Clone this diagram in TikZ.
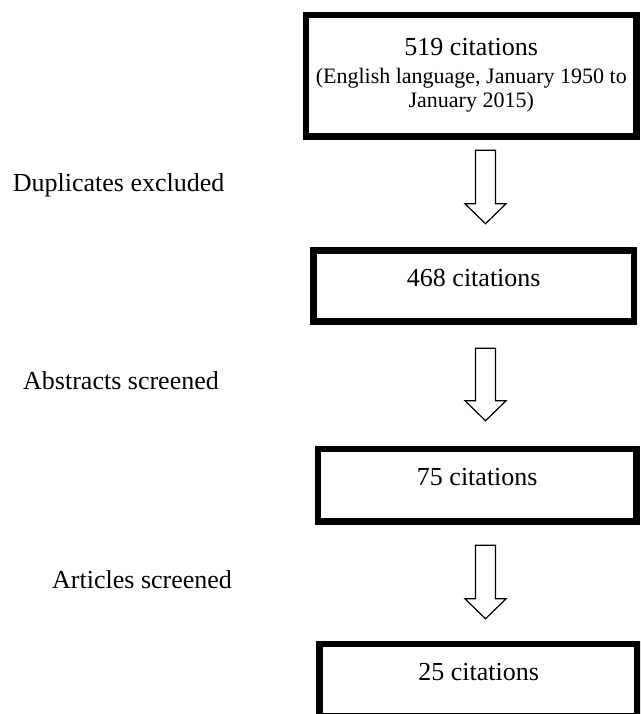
\documentclass[tikz,border=0pt]{standalone}
\usepackage{fontspec}
\setmainfont{Liberation Serif}
\usetikzlibrary{calc}
\tikzset{
  cite/.style={draw, line width=6.5pt, inner sep=0pt, align=center, font=\fontsize{26}{30}\selectfont},
  lbl/.style={anchor=base west, inner sep=0pt, font=\fontsize{26}{30}\selectfont},
  fat/.style={line width=1.2pt, to path={let \p1=(\tikztostart), \p2=(\tikztotarget) in
    (\x1-10pt,\y1) -- (\x1+10pt,\y1) -- (\x1+10pt,\y2+20pt) -- (\x1+20.5pt,\y2+20pt)
    -- (\x1,\y2) -- (\x1-20.5pt,\y2+20pt) -- (\x1-10pt,\y2+20pt) -- cycle}},
}
\begin{document}
\begin{tikzpicture}[x=1pt, y=1pt]
\useasboundingbox (0,0) rectangle (640,-714);
\clip (0,0) rectangle (640,-714);
\node[cite, minimum width=330.5pt, minimum height=121.5pt, font=\fontsize{22}{24}\selectfont] (b519) at (471.25,-75.75)
  {{\fontsize{26}{28}\selectfont 519 citations}\\[4pt](English language, January 1950 to\\January 2015)};
\node[cite, minimum width=320.5pt, text height=35.5pt, text depth=35.5pt] (b468) at (473.75,-286) {468 citations};
\node[cite, minimum width=318.5pt, text height=36.25pt, text depth=36.25pt] (b75) at (477.25,-485.25) {75 citations};
\node[cite, minimum width=318pt, text height=36.25pt, text depth=36.25pt] (b25) at (478.6,-680) {25 citations};
\node[lbl] (dup) at (12.7,-191.7) {Duplicates excluded};
\node[lbl] (abs) at (23,-389) {Abstracts screened};
\node[lbl] (art) at (52,-588) {Articles screened};
\coordinate (ax) at (485.5,0);
\draw[fat] ($(b519.south -| ax)+(0,-10.5)$) to ($(b468.north -| ax)+(0,23.5)$);
\draw[fat] ($(b468.south -| ax)+(0,-23.5)$) to ($(b75.north -| ax)+(0,25)$);
\draw[fat] ($(b75.south -| ax)+(0,-20.5)$) to ($(b25.north -| ax)+(0,21.7)$);
\end{tikzpicture}
\end{document}
